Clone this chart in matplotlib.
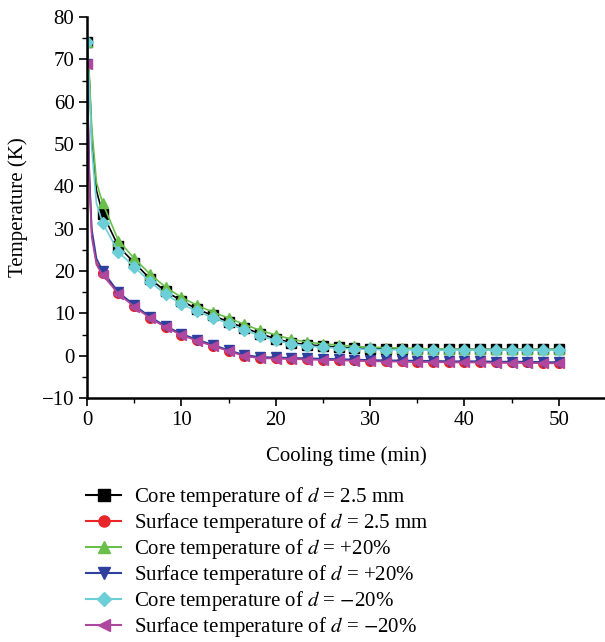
import matplotlib
matplotlib.use("Agg")
import matplotlib.pyplot as plt
import numpy as np
from matplotlib.ticker import MultipleLocator

plt.rcParams['font.family'] = ['Liberation Serif', 'DejaVu Serif']
plt.rcParams['mathtext.fontset'] = 'stix'

# marker times (min), every 50/30 min
t = np.linspace(0, 50, 31)

core_base = [74, 33.5, 25.8, 22.0, 18.2, 15.2, 13.0, 11.0, 9.5, 8.0, 6.6, 5.2, 4.0, 3.1,
             2.6, 2.3, 2.0, 1.8, 1.7, 1.6, 1.6, 1.5, 1.5, 1.5, 1.5, 1.5, 1.5, 1.5, 1.5, 1.5, 1.5]
surf_base = [69, 19.5, 14.8, 11.8, 9.0, 6.8, 5.0, 3.6, 2.4, 1.2, 0.0, -0.5, -0.6, -0.7,
             -0.8, -0.9, -1.0, -1.1, -1.2, -1.3, -1.3, -1.4, -1.4, -1.5, -1.5, -1.5, -1.6, -1.6, -1.6, -1.7, -1.7]
core_plus = [74, 36.0, 27.2, 23.0, 19.3, 16.2, 13.8, 11.9, 10.3, 8.9, 7.4, 6.0, 4.9, 3.9,
             3.2, 2.8, 2.5, 2.2, 2.0, 1.9, 1.8, 1.7, 1.6, 1.6, 1.5, 1.5, 1.5, 1.5, 1.5, 1.5, 1.5]
surf_plus = [69, 20.0, 15.0, 12.0, 9.2, 7.0, 5.2, 3.8, 2.6, 1.3, 0.2, -0.3, -0.4, -0.5,
             -0.6, -0.7, -0.8, -0.9, -1.0, -1.1, -1.1, -1.2, -1.2, -1.3, -1.3, -1.3, -1.4, -1.4, -1.4, -1.5, -1.5]
core_minus = [74, 31.3, 24.5, 21.0, 17.5, 14.5, 12.2, 10.5, 9.0, 7.6, 6.1, 4.7, 3.6, 2.8,
              2.3, 2.0, 1.8, 1.6, 1.5, 1.4, 1.4, 1.4, 1.3, 1.3, 1.3, 1.3, 1.3, 1.3, 1.3, 1.3, 1.3]
surf_minus = [69, 19.0, 14.6, 11.6, 8.9, 6.7, 4.9, 3.5, 2.3, 1.1, -0.1, -0.6, -0.7, -0.8,
              -0.9, -1.0, -1.1, -1.2, -1.3, -1.4, -1.4, -1.5, -1.5, -1.6, -1.6, -1.6, -1.7, -1.7, -1.7, -1.8, -1.8]

# extra points along the steep first drop (line only)
t_early = [0.25, 0.5, 1.0]
early_base_core = [65, 52, 39]
early_base_surf = [42, 29, 22]
early_plus_core = [66, 54, 41]
early_plus_surf = [43, 30, 23]
early_minus_core = [63, 49, 36]
early_minus_surf = [41, 28, 21.5]

labels = [r'Core temperature of $d$ = 2.5 mm',
          r'Surface temperature of $d$ = 2.5 mm',
          r'Core temperature of $d$ = +20%',
          r'Surface temperature of $d$ = +20%',
          r'Core temperature of $d$ = $-$20%',
          r'Surface temperature of $d$ = $-$20%']
colors = ['#000000', '#e8262a', '#6abf4b', '#2e3f9e', '#6ccfd8', '#b0479f']
markers = ['s', 'o', '^', 'v', 'D', '<']
series = [core_base, surf_base, core_plus, surf_plus, core_minus, surf_minus]
early = [early_base_core, early_base_surf, early_plus_core,
         early_plus_surf, early_minus_core, early_minus_surf]

fig = plt.figure(figsize=(6.05, 6.42), dpi=100)
ax = fig.add_axes([0.1438, 0.380, 0.8562, 0.5935])

for y, ye, c, m, lab in zip(series, early, colors, markers, labels):
    tl = np.concatenate([[t[0]], t_early, t[1:]])
    yl = np.concatenate([[y[0]], ye, y[1:]])
    ax.plot(tl, yl, color=c, lw=1.2)
    ax.plot(t, y, color=c, lw=0, marker=m, markersize=7 if m != 'D' else 6.5)
    ax.plot([], [], color=c, lw=1.5, marker=m, markersize=8 if m != 'D' else 7, label=lab)

ax.set_xlim(0, 54.9)
ax.set_ylim(-10, 80)
ax.xaxis.set_major_locator(MultipleLocator(10))
ax.xaxis.set_minor_locator(MultipleLocator(5))
ax.yaxis.set_major_locator(MultipleLocator(10))
ax.yaxis.set_minor_locator(MultipleLocator(5))
for s in ['top', 'right']:
    ax.spines[s].set_visible(False)
for s in ['left', 'bottom']:
    ax.spines[s].set_linewidth(1.8)
ax.tick_params(which='major', direction='out', length=6, width=1.2, labelsize=15, pad=3)
ax.tick_params(which='minor', direction='out', length=3.5, width=1.0)
ax.set_xlabel('Cooling time (min)', fontsize=15, labelpad=12)
ax.set_ylabel('Temperature (K)', fontsize=15, labelpad=10)

fig.legend(loc='upper left', bbox_to_anchor=(0.125, 0.261), bbox_transform=fig.transFigure,
           frameon=False, fontsize=15, handlelength=1.7, handletextpad=0.6,
           labelspacing=0.1, borderpad=0)

fig.savefig('out.png', dpi=100)
